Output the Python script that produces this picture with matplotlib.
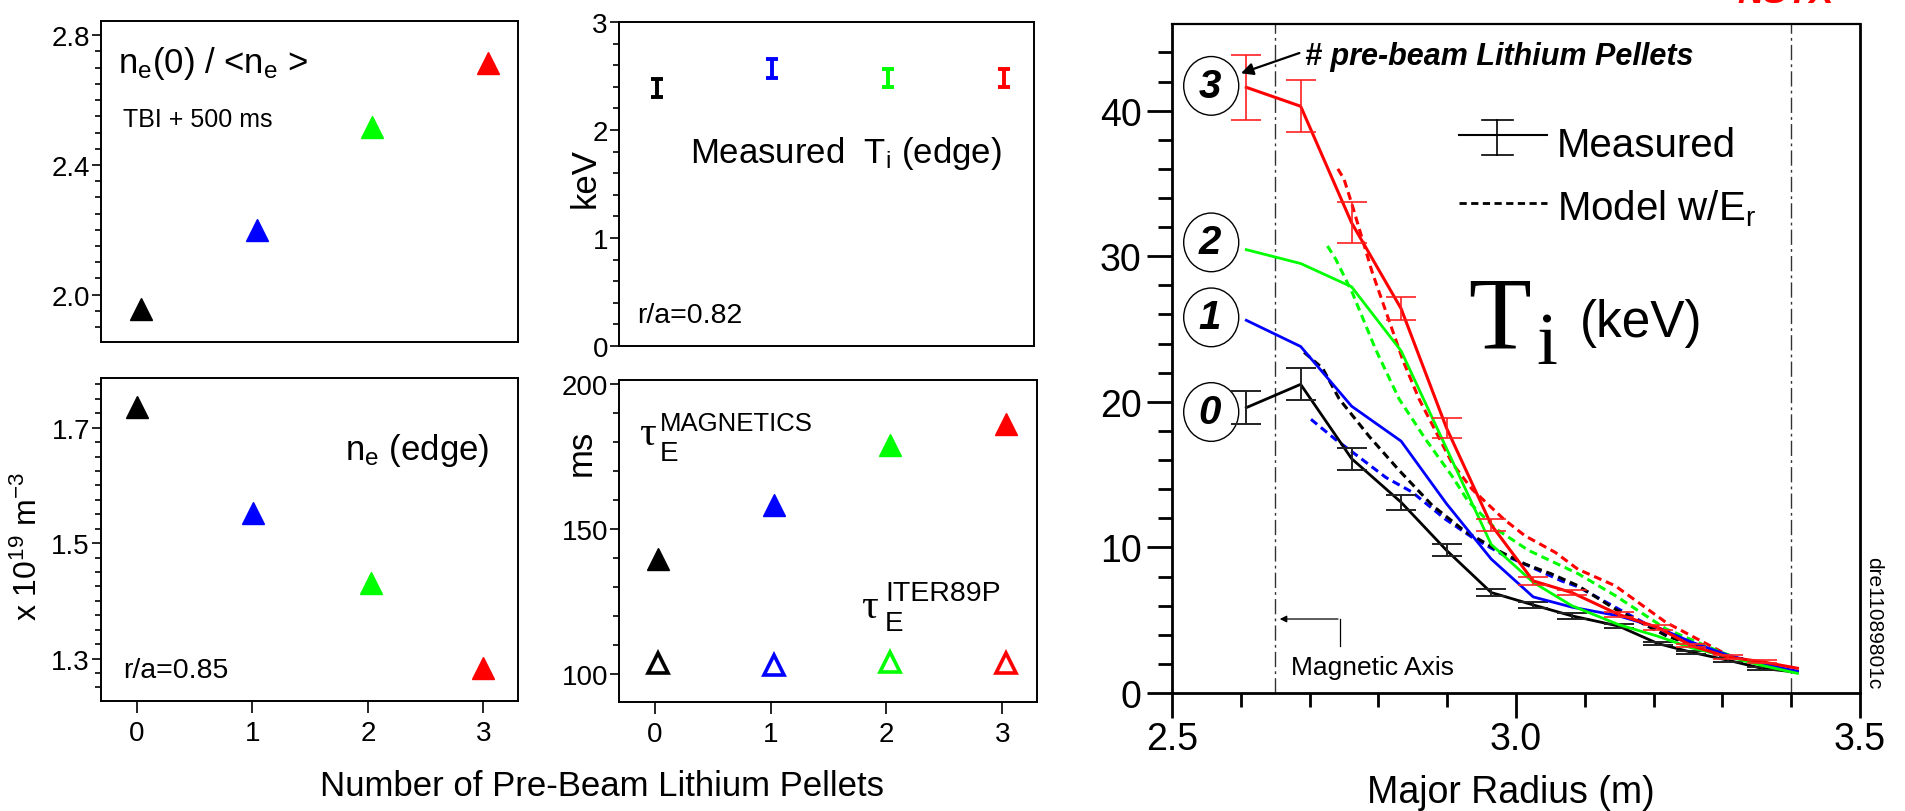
import matplotlib
matplotlib.use("Agg")
import matplotlib.pyplot as plt
from matplotlib.ticker import MultipleLocator, FormatStrFormatter, NullLocator
from matplotlib.patches import Ellipse

plt.rcParams['font.family'] = 'Liberation Sans'
plt.rcParams['mathtext.fontset'] = 'custom'
plt.rcParams['mathtext.rm'] = 'Liberation Sans'
plt.rcParams['mathtext.it'] = 'Liberation Sans:italic'
plt.rcParams['mathtext.bf'] = 'Liberation Sans:bold'

# ---- scan data: number of pre-beam lithium pellets ----
pellets = [0, 1, 2, 3]
colors = ['black', 'blue', '#00ff00', 'red']

x_ne0 = [0.04, 1.04, 2.04, 3.04]
ne0_ratio = [1.956, 2.198, 2.516, 2.715]

x_ti = [0.02, 1.02, 2.03, 3.04]
ti_edge = [2.39, 2.57, 2.48, 2.48]
ti_edge_err = [0.08, 0.085, 0.085, 0.085]

x_ne_edge = [0.0, 1.01, 2.03, 3.0]
ne_edge = [1.736, 1.553, 1.431, 1.283]

x_tau = [0.03, 1.03, 2.03, 3.03]
tau_magnetics = [139.8, 158.4, 179.1, 186.2]
tau_iter89p = [103.6, 103.0, 104.0, 103.6]

# ---- Ti profiles vs major radius ----
R_meas = [2.608, 2.687, 2.761, 2.833, 2.899, 2.964, 3.025, 3.081, 3.149,
          3.206, 3.255, 3.308, 3.357, 3.409]
ti_p0 = [19.6, 21.2, 16.1, 13.1, 9.8, 6.9, 6.05, 5.3, 4.6, 3.4, 2.8, 2.25, 1.7, 1.42]
ti_p0_err = [1.15, 1.1, 0.75, 0.5, 0.4, 0.27, 0.23, 0.2, 0.12, 0.12, 0.11, 0.14, 0.12]
ti_p1 = [25.6, 23.8, 19.7, 17.3, 13.0, 9.2, 6.6, 5.9, 5.3, 4.5, 3.5, 2.6, 2.0, 1.5]
ti_p2 = [30.45, 29.5, 27.9, 23.5, 16.8, 10.2, 7.6, 6.0, 4.7, 3.9, 3.1, 2.5, 1.9, 1.35]
ti_p3 = [41.6, 40.3, 32.3, 26.4, 18.2, 11.55, 7.7, 6.9, 5.4, 4.5, 3.25, 2.47, 2.15, 1.7]
ti_p3_err = [2.25, 1.8, 1.4, 0.8, 0.7, 0.4, 0.25, 0.2, 0.15, 0.15, 0.12, 0.12, 0.12]

# model with Er
R_mod0 = [2.692, 2.719, 2.743, 2.787, 2.830, 2.878, 2.926, 2.979, 3.013, 3.052, 3.090, 3.144, 3.218, 3.300]
ti_mod0 = [23.4, 22.3, 20.2, 17.6, 15.3, 12.9, 11.1, 9.66, 8.86, 8.17, 7.37, 5.77, 3.94, 2.56]
R_mod1 = [2.702, 2.738, 2.772, 2.811, 2.849, 2.897, 2.936, 2.979, 3.018, 3.066, 3.090, 3.144, 3.218, 3.300]
ti_mod1 = [18.8, 17.4, 16.2, 14.8, 13.8, 11.95, 10.7, 9.55, 8.74, 7.7, 7.3, 5.9, 4.0, 2.5]
R_mod2 = [2.726, 2.738, 2.762, 2.796, 2.830, 2.869, 2.907, 2.930, 2.970, 3.018, 3.090, 3.144, 3.218, 3.293, 3.310]
ti_mod2 = [30.7, 29.8, 27.5, 23.6, 20.2, 17.4, 14.9, 13.2, 11.3, 9.8, 8.2, 6.7, 4.4, 2.9, 2.6]
R_mod3 = [2.741, 2.750, 2.762, 2.791, 2.836, 2.859, 2.907, 2.936, 2.982, 3.013, 3.057, 3.090, 3.144, 3.218, 3.300, 3.310]
ti_mod3 = [36.0, 35.3, 33.5, 28.9, 22.8, 20.2, 15.8, 14.0, 11.95, 10.8, 9.66, 8.5, 7.37, 4.85, 2.8, 2.55]

magnetic_axis = 2.65
plasma_edge = 3.40

W, H = 1906, 812
fig = plt.figure(figsize=(W / 100, H / 100), dpi=100)


def add_box(l, t, r, b):
    return fig.add_axes([l / W, 1 - b / H, (r - l) / W, (b - t) / H])


def ftext(x, y, s, **kw):
    kw.setdefault('ha', 'left')
    kw.setdefault('va', 'baseline')
    return fig.text(x / W, 1 - y / H, s, **kw)


def style_small(ax, ylim, yticks, minor, fmt, xlabels):
    ax.set_xlim(-0.31, 3.30)
    ax.set_ylim(*ylim)
    ax.set_yticks(yticks)
    ax.yaxis.set_minor_locator(MultipleLocator(minor))
    ax.yaxis.set_major_formatter(FormatStrFormatter(fmt))
    for s in ax.spines.values():
        s.set_linewidth(1.4)
    ax.tick_params(axis='y', which='major', direction='out', length=6.5,
                   width=1.2, labelsize=20, pad=1.5)
    ax.tick_params(axis='y', which='minor', direction='out', length=4.5, width=1.2)
    ax.xaxis.set_minor_locator(NullLocator())
    if xlabels:
        ax.set_xticks(pellets)
        ax.tick_params(axis='x', direction='out', length=8.5, width=1.2,
                       labelsize=20, pad=5)
    else:
        ax.tick_params(axis='x', bottom=False, labelbottom=False)


# central / average density
ax1 = add_box(101, 22, 518, 343)
style_small(ax1, (1.854, 2.844), [2.0, 2.4, 2.8], 0.05, '%.1f', False)
for x, y, c in zip(x_ne0, ne0_ratio, colors):
    ax1.plot(x, y, '^', color=c, ms=16, mec=c)
ftext(118, 73, r'n$_\mathregular{e}$(0) / <n$_\mathregular{e}$ >', fontsize=25)
ftext(123, 127, 'TBI + 500 ms', fontsize=18)

# edge Ti
ax2 = add_box(619, 23, 1034, 347)
style_small(ax2, (0, 3), [0, 1, 2, 3], 0.2, '%d', False)
for x, y, e, c in zip(x_ti, ti_edge, ti_edge_err, colors):
    ax2.errorbar(x, y, yerr=e, fmt='none', ecolor=c, elinewidth=2.8,
                 capsize=4.2, capthick=2.8)
ftext(690, 163, r'Measured  T$_\mathregular{i}$ (edge)', fontsize=25)
ftext(637, 323, 'r/a=0.82', fontsize=20.5)
ftext(585, 178, 'keV', fontsize=25, rotation=90, ha='center', va='center')

# edge density
ax3 = add_box(101, 379, 518, 702)
style_small(ax3, (1.2265, 1.786), [1.3, 1.5, 1.7], 0.025, '%.1f', True)
for x, y, c in zip(x_ne_edge, ne_edge, colors):
    ax3.plot(x, y, '^', color=c, ms=16, mec=c)
ftext(345, 460, r'n$_\mathregular{e}$ (edge)', fontsize=25)
ftext(123, 678, 'r/a=0.85', fontsize=20.5)
ftext(28, 547, r'x 10$^{\mathregular{19}}$ m$^{\mathregular{-3}}$', fontsize=23,
      rotation=90, ha='center', va='center')

# confinement times
ax4 = add_box(619, 381, 1037, 703)
style_small(ax4, (90.3, 201.5), [100, 150, 200], 10, '%d', True)
for x, y, c in zip(x_tau, tau_magnetics, colors):
    ax4.plot(x, y, '^', color=c, ms=16, mec=c)
for x, y, c in zip(x_tau, tau_iter89p, colors):
    ax4.plot(x, y, '^', color=c, ms=14, mfc='none', mec=c, mew=2.6)
ftext(581, 453, 'ms', fontsize=25, rotation=90, ha='center', va='center')
ftext(639, 445, '\u03c4', fontsize=30, family='Liberation Serif')
ftext(660, 431, 'MAGNETICS', fontsize=18.5)
ftext(660, 461, 'E', fontsize=20)
ftext(861, 618, '\u03c4', fontsize=30, family='Liberation Serif')
ftext(885, 601, 'ITER89P', fontsize=20.5)
ftext(885, 631, 'E', fontsize=20)

ftext(602, 796, 'Number of Pre-Beam Lithium Pellets', fontsize=25, ha='center')

# ---- Ti profiles ----
ax = add_box(1172, 25, 1860, 694)
ax.set_xlim(2.5, 3.5)
ax.set_ylim(0, 45.95)
ax.set_xticks([2.5, 3.0, 3.5])
ax.xaxis.set_minor_locator(MultipleLocator(0.1))
ax.xaxis.set_major_formatter(FormatStrFormatter('%.1f'))
ax.set_yticks([0, 10, 20, 30, 40])
ax.yaxis.set_minor_locator(MultipleLocator(2))
for s in ax.spines.values():
    s.set_linewidth(2.0)
ax.spines['top'].set_linewidth(1.6)
ax.tick_params(which='major', direction='out', length=18, width=2.0, labelsize=27)
ax.tick_params(axis='y', which='major', pad=4)
ax.tick_params(axis='x', which='major', pad=2)
ax.tick_params(which='minor', direction='out', length=10, width=2.0)

dashdot = (0, (11, 3, 2, 3))
ax.axvline(magnetic_axis, color='#333333', lw=1.0, ls=dashdot)
ax.axvline(plasma_edge, color='#333333', lw=1.0, ls=dashdot)

dots = (0, (2.6, 1.6))
for r, t, c in [(R_mod3, ti_mod3, 'red'), (R_mod2, ti_mod2, '#00ff00'),
                (R_mod1, ti_mod1, 'blue'), (R_mod0, ti_mod0, 'black')]:
    ax.plot(r, t, color=c, lw=2.2, ls=dots)

ax.plot(R_meas, ti_p0, color='black', lw=2.0)
ax.errorbar(R_meas[:-1], ti_p0[:-1], yerr=ti_p0_err, fmt='none', ecolor='#222222',
            elinewidth=1.4, capsize=11, capthick=1.4)
ax.plot(R_meas, ti_p1, color='blue', lw=2.0)
ax.plot(R_meas, ti_p2, color='#00ff00', lw=2.0)
ax.plot(R_meas, ti_p3, color='red', lw=2.2)
ax.errorbar(R_meas[:-1], ti_p3[:-1], yerr=ti_p3_err, fmt='none', ecolor='#ff2020',
            elinewidth=1.2, capsize=11, capthick=1.2)

# circled pellet counts
for n, t in zip(pellets, [19.3, 25.8, 30.95, 41.7]):
    ax.add_patch(Ellipse((2.557, t), 0.08, 4.03, fill=False, ec='black', lw=1.0))
    ax.text(2.555, t, str(n), fontsize=29, fontweight='bold', fontstyle='italic',
            ha='center', va='center')

ftext(1305, 65, '# pre-beam Lithium Pellets', fontsize=22, fontweight='bold',
      fontstyle='italic')
ax.annotate('', xy=(0.0964, 0.925), xytext=(0.189, 0.958), xycoords='axes fraction',
            arrowprops=dict(arrowstyle='-|>', lw=1.6, color='black', mutation_scale=18))

# legend
ax.plot([0.417, 0.545], [0.8345, 0.8345], transform=ax.transAxes, color='black', lw=1.5)
ax.plot([0.473, 0.473], [0.8046, 0.857], transform=ax.transAxes, color='black', lw=1.2)
for yy in (0.8046, 0.857):
    ax.plot([0.4506, 0.4956], [yy, yy], transform=ax.transAxes, color='black', lw=1.2)
ax.plot([0.417, 0.545], [0.7324, 0.7324], transform=ax.transAxes, color='black',
        lw=2.0, ls=dots)
ftext(1557, 157, 'Measured', fontsize=29)
ftext(1557, 220, r'Model w/E$_\mathregular{r}$', fontsize=29)

ftext(1468, 348, 'T', fontsize=74, family='Liberation Serif')
ftext(1536, 364, 'i', fontsize=54, family='Liberation Serif')
ftext(1580, 337, '(keV)', fontsize=37)

# magnetic axis marker
ax.plot([0.2446, 0.2446], [0.0707, 0.1106], transform=ax.transAxes, color='black', lw=0.9)
ax.annotate('', xy=(0.1526, 0.1106), xytext=(0.2453, 0.1106), xycoords='axes fraction',
            arrowprops=dict(arrowstyle='-|>', lw=0.9, color='black', mutation_scale=10))
ftext(1291, 675, 'Magnetic Axis', fontsize=19)

ftext(1511, 803, 'Major Radius (m)', fontsize=27, ha='center')
ftext(1874, 623, 'dre11089801c', fontsize=15, rotation=-90, ha='center', va='center')
ftext(1737, 3, 'NSTX', fontsize=26, fontweight='bold', fontstyle='italic', color='red')

fig.savefig('out.png', dpi=100)
